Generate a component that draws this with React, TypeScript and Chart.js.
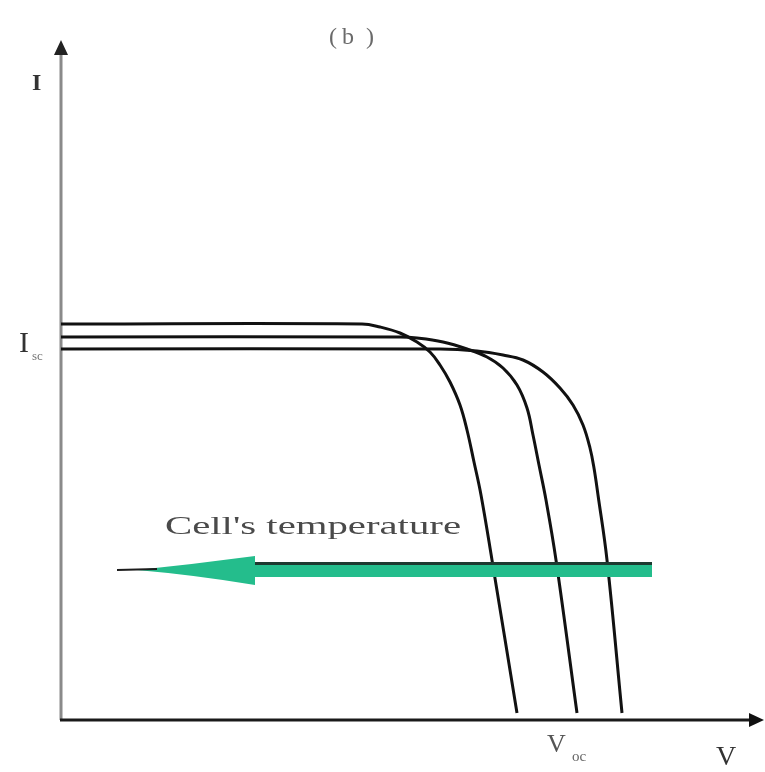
import React, { useEffect, useRef } from "react";
import { Chart, registerables } from "chart.js";

Chart.register(...registerables);

// Voltage (x) and current (y) readings for the three I-V curves (scale 0..700 / 0..680)
const vCurveLow = [0, 301, 319, 339, 356, 369, 379, 389, 399, 406, 413, 420, 431, 456];
const iCurveLow = [396, 396, 393, 387, 378, 368, 355, 338, 315, 290, 258, 225, 160, 7];

const vCurveMid = [0, 339, 356, 382, 406, 426, 442, 456, 466, 472, 478, 485, 495, 516];
const iCurveMid = [383, 383, 382, 378, 371, 363, 352, 335, 312, 285, 255, 220, 160, 7];

const vCurveHigh = [0, 379, 416, 442, 462, 482, 499, 512, 522, 529, 533, 537, 546, 561];
const iCurveHigh = [371, 371, 369, 365, 360, 348, 332, 315, 295, 272, 252, 225, 160, 7];

const xRange = [0, 700];
const yRange = [0, 680];

// Temperature arrow (data coordinates): from tail to tip
const arrowTail = [591, 150];
const arrowHeadBase = 194;
const arrowTip = [56, 150];

const toPoints = (xs: number[], ys: number[]) => xs.map((x, i) => ({ x, y: ys[i] }));

const decorPlugin = {
  id: "decor",
  beforeDatasetsDraw(chart: any) {
    const { ctx, scales } = chart;
    const xs = scales.x;
    const ys = scales.y;
    const ox = xs.getPixelForValue(0);
    const oy = ys.getPixelForValue(0);
    const top = ys.getPixelForValue(yRange[1]);
    const right = xs.getPixelForValue(xRange[1]);
    ctx.save();
    // Y axis
    ctx.strokeStyle = "#8a8a8a";
    ctx.lineWidth = 3;
    ctx.beginPath();
    ctx.moveTo(ox, oy);
    ctx.lineTo(ox, top + 12);
    ctx.stroke();
    ctx.fillStyle = "#222";
    ctx.beginPath();
    ctx.moveTo(ox, top);
    ctx.lineTo(ox - 7, top + 15);
    ctx.lineTo(ox + 7, top + 15);
    ctx.closePath();
    ctx.fill();
    // X axis
    ctx.strokeStyle = "#1a1a1a";
    ctx.lineWidth = 3;
    ctx.beginPath();
    ctx.moveTo(ox - 1, oy);
    ctx.lineTo(right - 10, oy);
    ctx.stroke();
    ctx.fillStyle = "#111";
    ctx.beginPath();
    ctx.moveTo(right + 3, oy);
    ctx.lineTo(right - 12, oy - 7);
    ctx.lineTo(right - 12, oy + 7);
    ctx.closePath();
    ctx.fill();
    ctx.restore();
  },
  afterDatasetsDraw(chart: any) {
    const { ctx, scales } = chart;
    const xs = scales.x;
    const ys = scales.y;
    ctx.save();
    // Green temperature arrow
    const tx = xs.getPixelForValue(arrowTail[0]);
    const ty = ys.getPixelForValue(arrowTail[1]);
    const hb = xs.getPixelForValue(arrowHeadBase);
    const px = xs.getPixelForValue(arrowTip[0]);
    const py = ys.getPixelForValue(arrowTip[1]);
    ctx.fillStyle = "#24bd8c";
    ctx.fillRect(hb - 2, ty - 7, tx - hb + 2, 14);
    ctx.fillStyle = "#1d3a30";
    ctx.fillRect(hb, ty - 8, tx - hb, 3);
    ctx.fillStyle = "#24bd8c";
    ctx.beginPath();
    ctx.moveTo(px + 20, py);
    ctx.quadraticCurveTo(hb - 60, py - 6, hb, py - 14);
    ctx.lineTo(hb, py + 15);
    ctx.quadraticCurveTo(hb - 60, py + 5, px + 20, py);
    ctx.closePath();
    ctx.fill();
    ctx.strokeStyle = "#1c1c1c";
    ctx.lineWidth = 2;
    ctx.beginPath();
    ctx.moveTo(px, py);
    ctx.lineTo(px + 40, py - 1);
    ctx.stroke();

    // Texts
    ctx.textBaseline = "alphabetic";
    ctx.textAlign = "left";
    const serif = '"Liberation Serif", "DejaVu Serif", serif';

    // Cell's temperature (stretched to match width)
    ctx.fillStyle = "#4a4a4a";
    ctx.font = `26px ${serif}`;
    const label = "Cell's temperature";
    const w = ctx.measureText(label).width;
    ctx.save();
    ctx.translate(165, 534);
    ctx.scale(296 / w, 1);
    ctx.fillText(label, 0, 0);
    ctx.restore();

    // (b)
    ctx.fillStyle = "#6a6a6a";
    ctx.font = `24px ${serif}`;
    ctx.fillText("(", 329, 44);
    ctx.fillText("b", 342, 44);
    ctx.fillText(")", 366, 44);

    // I axis label
    ctx.fillStyle = "#333";
    ctx.font = `bold 24px ${serif}`;
    ctx.fillText("I", 32, 90);

    // I_sc
    ctx.fillStyle = "#333";
    ctx.font = `30px ${serif}`;
    ctx.fillText("I", 19, 352);
    ctx.fillStyle = "#777";
    ctx.font = `13px ${serif}`;
    ctx.fillText("sc", 32, 360);

    // V_oc
    ctx.fillStyle = "#555";
    ctx.font = `26px ${serif}`;
    ctx.fillText("V", 547, 752);
    ctx.fillStyle = "#666";
    ctx.font = `15px ${serif}`;
    ctx.fillText("oc", 572, 761);

    // V axis label
    ctx.fillStyle = "#333";
    ctx.font = `28px ${serif}`;
    ctx.fillText("V", 716, 765);
    ctx.restore();
  },
};

export default function App() {
  const canvasRef = useRef<HTMLCanvasElement | null>(null);

  useEffect(() => {
    const canvas = canvasRef.current;
    if (!canvas) return;
    const lineStyle = {
      showLine: true,
      borderColor: "#111",
      borderWidth: 3,
      pointRadius: 0,
      tension: 0.4,
      clip: false as any,
    };
    const chart = new Chart(canvas, {
      type: "scatter",
      data: {
        datasets: [
          { ...lineStyle, label: "T3", data: toPoints(vCurveLow, iCurveLow) },
          { ...lineStyle, label: "T2", data: toPoints(vCurveMid, iCurveMid) },
          { ...lineStyle, label: "T1", data: toPoints(vCurveHigh, iCurveHigh) },
        ],
      },
      options: {
        animation: false,
        responsive: false,
        layout: { padding: { left: 61, right: 4, top: 40, bottom: 52 } },
        plugins: { legend: { display: false }, tooltip: { enabled: false } },
        scales: {
          x: { type: "linear", min: xRange[0], max: xRange[1], display: false },
          y: { type: "linear", min: yRange[0], max: yRange[1], display: false },
        },
      },
      plugins: [decorPlugin],
    });
    return () => chart.destroy();
  }, []);

  return (
    <div style={{ position: "absolute", left: 0, top: 0, width: 765, height: 772, background: "#fff" }}>
      <canvas ref={canvasRef} width={765} height={772} style={{ display: "block" }} />
    </div>
  );
}
